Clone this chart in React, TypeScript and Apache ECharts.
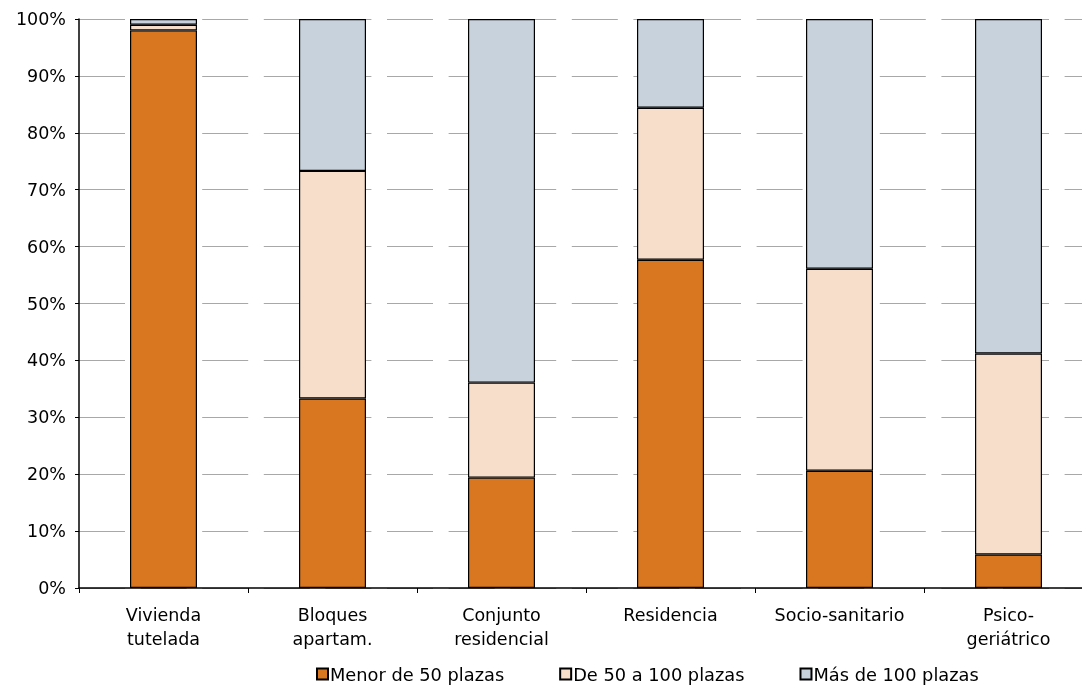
import React, { useEffect, useRef } from "react";
import * as echarts from "echarts";

const categories = ["Vivienda\ntutelada", "Bloques\napartam.", "Conjunto\nresidencial", "Residencia", "Socio-sanitario", "Psico-\ngeriátrico"];
const menor50 = [98.0, 33.3, 19.4, 57.7, 20.6, 5.9];
const de50a100 = [1.0, 40.0, 16.7, 26.7, 35.5, 35.3];
const mas100 = [1.0, 26.7, 63.9, 15.6, 43.9, 58.8];
const seriesNames = ["Menor de 50 plazas", "De 50 a 100 plazas", "Más de 100 plazas"];
const colors = ["#D97720", "#F6DECB", "#C8D2DC"];

export default function App() {
  const ref = useRef<HTMLDivElement>(null);
  useEffect(() => {
    document.body.style.overflow = "hidden";
    const chart = echarts.init(ref.current!, undefined, { renderer: "svg" });
    const font = "DejaVu Sans";
    const fs = 17.5;
    const data = [menor50, de50a100, mas100];
    chart.setOption({
      animation: false,
      textStyle: { fontFamily: font },
      grid: { left: 79, right: 7, top: 19, bottom: 112 },
      legend: {
        bottom: 12,
        left: 311,
        itemWidth: 11,
        itemHeight: 11,
        itemGap: 55,
        icon: "rect",
        textStyle: { fontFamily: font, fontSize: 17.8, color: "#000", padding: [0, 0, 0, -3] },
        data: seriesNames,
      },
      xAxis: {
        type: "category",
        data: categories,
        axisLine: { lineStyle: { color: "#000", width: 1.5 } },
        axisTick: { show: true, length: 5, lineStyle: { color: "#000" } },
        axisLabel: { fontFamily: font, fontSize: fs, color: "#000", margin: 15, lineHeight: 24, interval: 0 },
      },
      yAxis: {
        type: "value",
        min: 0,
        max: 100,
        interval: 10,
        axisLine: { show: true, lineStyle: { color: "#000", width: 1.5 } },
        axisTick: { show: true, length: 4, lineStyle: { color: "#000" } },
        axisLabel: { fontFamily: font, fontSize: fs, color: "#000", margin: 13, formatter: "{value}%" },
        splitLine: { show: true, lineStyle: { color: "#a8a8a8", width: 1, type: [46, 15.6] } },
      },
      series: data.map((d, i) => ({
        name: seriesNames[i],
        type: "bar",
        stack: "total",
        barWidth: 67,
        data: d,
        itemStyle: { color: colors[i], borderColor: "#000", borderWidth: 1.2 },
      })),
    });
    return () => chart.dispose();
  }, []);
  return <div ref={ref} style={{ position: "fixed", left: 0, top: 0, width: 1100, height: 700 }} />;
}
